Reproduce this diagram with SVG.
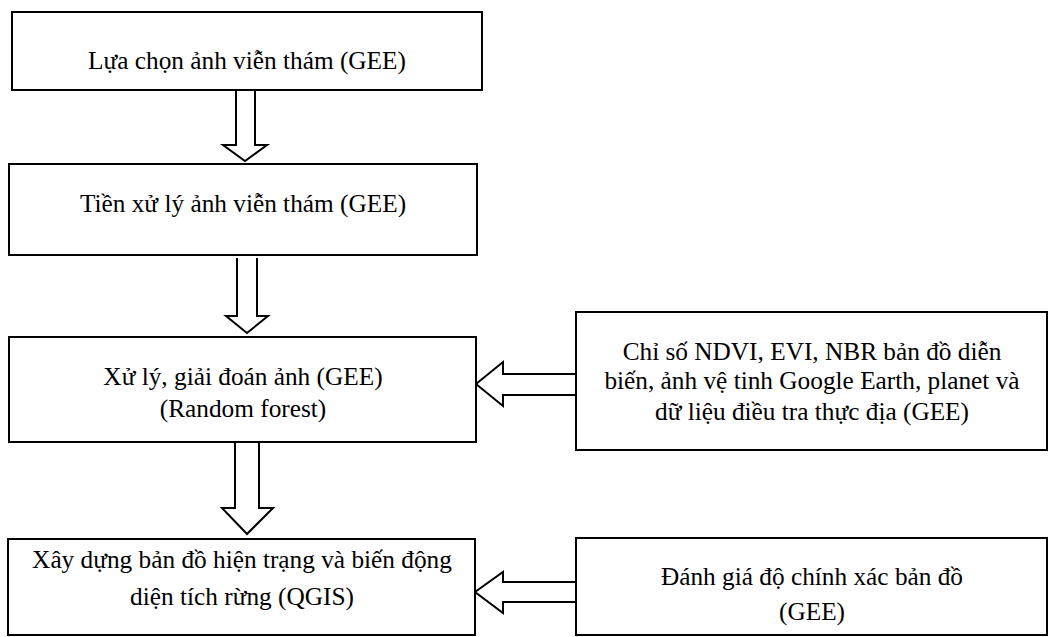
<svg xmlns="http://www.w3.org/2000/svg" width="1058" height="637" viewBox="0 0 1058 637">
<style>
.box{fill:#fff;stroke:#000;stroke-width:2}
.arr{fill:#fff;stroke:#000;stroke-width:2;stroke-linejoin:miter}
.t{font-family:'Liberation Serif',serif;font-size:25.3px;fill:#000;text-anchor:middle}
</style>
<rect width="1058" height="637" fill="#fff"/>
<g id="connectors">
<path class="arr" d="M236,90 V145 H223 L245,161 L267,145 H255 V90"/>
<path class="arr" d="M237,258 V316 H226 L247,333 L268,316 H257 V258"/>
<path class="arr" d="M235,442 V508 H222 L247,534 L273,508 H259 V442"/>
<path class="arr" d="M576,374 H503 V362 L476,384 L503,406 V395 H576"/>
<path class="arr" d="M576,582 H503 V572 L475,592 L503,613 V602 H576"/>
</g>
<g id="n1"><rect class="box" x="12" y="12" width="470" height="78"/><text class="t" x="247" y="69">Lựa chọn ảnh viễn thám (GEE)</text></g>
<g id="n2"><rect class="box" x="9" y="164" width="468" height="91"/><text class="t" x="243" y="212">Tiền xử lý ảnh viễn thám (GEE)</text></g>
<g id="n3"><rect class="box" x="9" y="337" width="467" height="105"/><text class="t" x="243" y="385">Xử lý, giải đoán ảnh (GEE)</text><text class="t" x="243" y="417">(Random forest)</text></g>
<g id="n4"><rect class="box" x="8" y="539" width="467" height="96"/><text class="t" x="242" y="568">Xây dựng bản đồ hiện trạng và biến động</text><text class="t" x="242" y="605">diện tích rừng (QGIS)</text></g>
<g id="n5"><rect class="box" x="576" y="312" width="471" height="138"/><text class="t" x="812" y="360">Chỉ số NDVI, EVI, NBR bản đồ diễn</text><text class="t" x="812" y="389">biến, ảnh vệ tinh Google Earth, planet và</text><text class="t" x="812" y="420">dữ liệu điều tra thực địa (GEE)</text></g>
<g id="n6"><rect class="box" x="576" y="538" width="471" height="97"/><text class="t" x="812" y="585">Đánh giá độ chính xác bản đồ</text><text class="t" x="812" y="620">(GEE)</text></g>
</svg>
